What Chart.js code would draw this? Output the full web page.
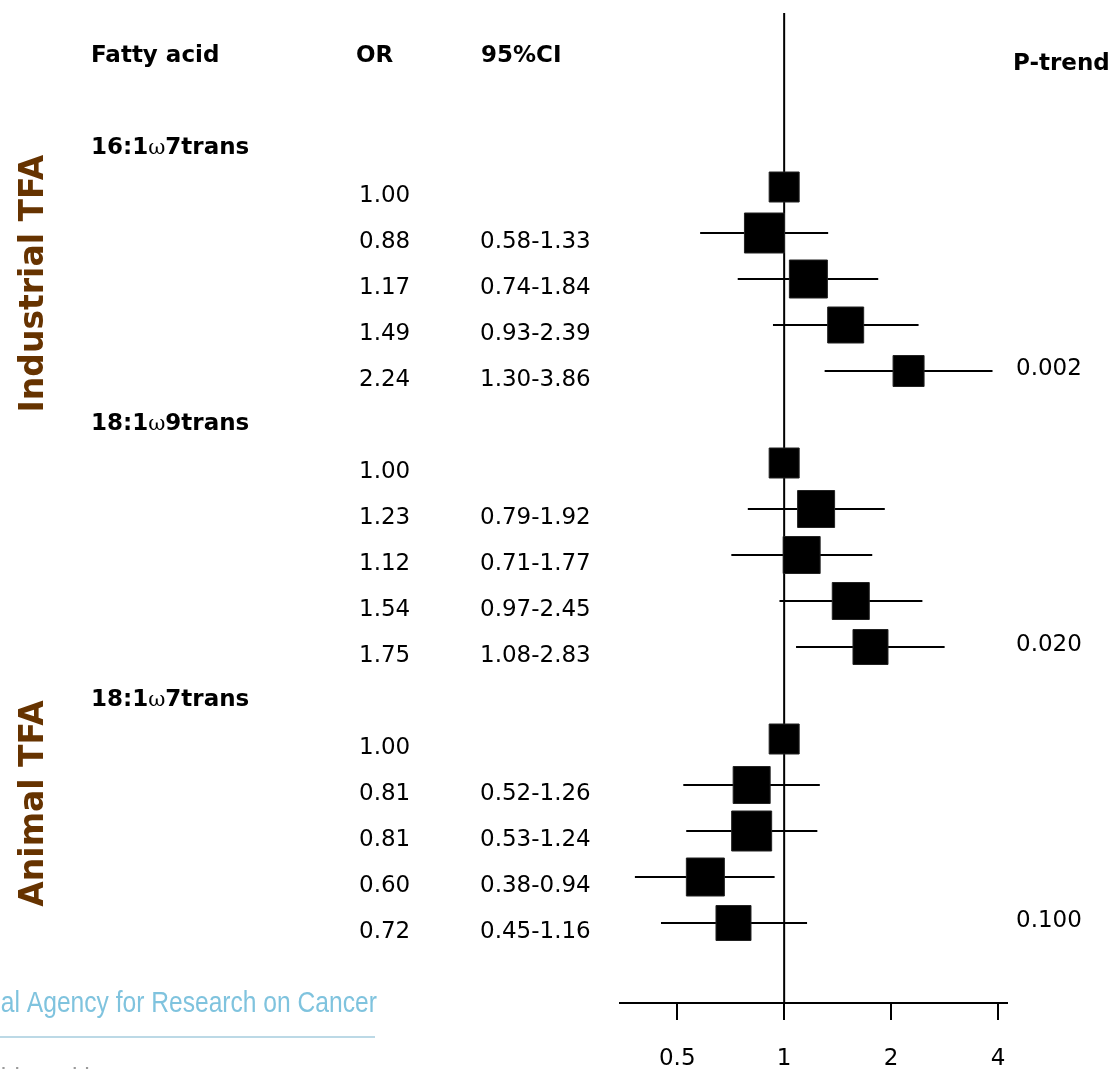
<!DOCTYPE html>
<html><head><meta charset="utf-8">
<script src="https://cdn.jsdelivr.net/npm/chart.js@4.4.1/dist/chart.umd.min.js"></script>
<style>html,body{margin:0;padding:0;background:#fff;overflow:hidden}canvas{display:block}</style>
</head><body>
<canvas id="c" width="1117" height="1069"></canvas>
<script>
// ---- data ----
const fattyAcids = ['16:1ω7trans', '18:1ω9trans', '18:1ω7trans'];
const groupLabels = ['Industrial TFA', 'Animal TFA'];
const orValues = [
  [1.00, 0.88, 1.17, 1.49, 2.24],
  [1.00, 1.23, 1.12, 1.54, 1.75],
  [1.00, 0.81, 0.81, 0.60, 0.72]
];
const ciLow = [
  [null, 0.58, 0.74, 0.93, 1.30],
  [null, 0.79, 0.71, 0.97, 1.08],
  [null, 0.52, 0.53, 0.38, 0.45]
];
const ciHigh = [
  [null, 1.33, 1.84, 2.39, 3.86],
  [null, 1.92, 1.77, 2.45, 2.83],
  [null, 1.26, 1.24, 0.94, 1.16]
];
const pTrend = ['0.002', '0.020', '0.100'];
const xTicks = [0.5, 1, 2, 4];
const headers = ['Fatty acid', 'OR', '95%CI', 'P-trend'];

// ---- style (box side lengths in px) ----
const boxSide = [
  [31, 41, 39, 37, 32],
  [31, 38, 38, 38, 36],
  [31, 38, 41, 39, 36]
];

const Y_MIN = -128 / 46, Y_MAX = 862 / 46;
const rowOf = (g, k) => g * 6 + 1 + k;

const datasets = [];
// CI lines
orValues.forEach((arr, g) => arr.forEach((v, k) => {
  if (ciLow[g][k] != null) {
    datasets.push({
      data: [{x: ciLow[g][k], y: rowOf(g, k)}, {x: ciHigh[g][k], y: rowOf(g, k)}],
      showLine: true, borderColor: '#000', borderWidth: 2, pointRadius: 0, order: 2
    });
  }
}));
// reference line at OR = 1
datasets.push({
  data: [{x: 1, y: Y_MIN}, {x: 1, y: Y_MAX}],
  showLine: true, borderColor: '#000', borderWidth: 2, pointRadius: 0, order: 3
});
// squares
const pts = [], radii = [];
orValues.forEach((arr, g) => arr.forEach((v, k) => {
  pts.push({x: v, y: rowOf(g, k)});
  radii.push((boxSide[g][k] - 1) / (2 * Math.SQRT1_2));
}));
datasets.push({
  data: pts, pointStyle: 'rect', pointRadius: radii,
  pointBackgroundColor: '#000', pointBorderColor: '#222', pointBorderWidth: 1, order: 0
});

function drawName(ctx, name, x, y) {
  const parts = name.split('ω');
  ctx.font = 'bold 23px "DejaVu Sans"';
  ctx.fillText(parts[0], x, y);
  x += ctx.measureText(parts[0]).width;
  ctx.font = '21px "DejaVu Serif"';
  ctx.fillText('ω', x, y);
  x += ctx.measureText('ω').width;
  ctx.font = 'bold 23px "DejaVu Sans"';
  ctx.fillText(parts[1], x, y);
}

const textPlugin = {
  id: 'texts',
  afterDraw(chart) {
    const ctx = chart.ctx, ys = chart.scales.y;
    const py = r => ys.getPixelForValue(r);
    ctx.save();
    ctx.fillStyle = '#000';
    ctx.textBaseline = 'alphabetic';
    ctx.textAlign = 'left';
    ctx.font = 'bold 23px "DejaVu Sans"';
    ctx.fillText(headers[0], 91, 62);
    ctx.fillText(headers[1], 356, 62);
    ctx.fillText(headers[2], 481, 62);
    ctx.fillText(headers[3], 1013, 70);
    fattyAcids.forEach((n, g) => drawName(ctx, n, 91, py(g * 6) + 13));
    ctx.font = '23px "DejaVu Sans"';
    orValues.forEach((arr, g) => arr.forEach((v, k) => {
      const y = py(rowOf(g, k)) + 15;
      ctx.fillText(v.toFixed(2), 359, y);
      if (ciLow[g][k] != null) ctx.fillText(ciLow[g][k].toFixed(2) + '-' + ciHigh[g][k].toFixed(2), 480, y);
    }));
    pTrend.forEach((p, g) => ctx.fillText(p, 1016, py(rowOf(g, 4)) + 4));

    // group labels
    ctx.fillStyle = '#663300';
    ctx.font = 'bold 33px "DejaVu Sans"';
    ctx.textAlign = 'center';
    [[groupLabels[0], 3.1], [groupLabels[1], 14.4]].forEach(([t, r]) => {
      ctx.save();
      ctx.translate(43, py(r));
      ctx.rotate(-Math.PI / 2);
      ctx.fillText(t, 0, 0);
      ctx.restore();
    });

    // footer remnant
    ctx.textAlign = 'left';
    ctx.save();
    ctx.scale(0.82, 1);
    ctx.font = '30px "Liberation Sans"';
    ctx.fillStyle = '#7fc3de';
    ctx.fillText('al Agency for Research on Cancer', 1, 1012);
    ctx.fillStyle = '#9a9a9a';
    ctx.fillText('ld Health', 1, 1089);
    ctx.restore();
    ctx.strokeStyle = '#bcd9e6';
    ctx.lineWidth = 2;
    ctx.beginPath(); ctx.moveTo(0, 1037); ctx.lineTo(375, 1037); ctx.stroke();
    ctx.restore();
  }
};

new Chart(document.getElementById('c'), {
  type: 'scatter',
  data: {datasets},
  plugins: [textPlugin],
  options: {
    responsive: false, animation: false, devicePixelRatio: 1, events: [],
    layout: {autoPadding: false, padding: {left: 620, right: 110, top: 13, bottom: 0}},
    plugins: {legend: {display: false}, tooltip: {enabled: false}},
    scales: {
      x: {
        type: 'logarithmic', min: 0.345, max: 4.24, bounds: 'data', position: 'bottom',
        afterBuildTicks: s => { s.ticks = xTicks.map(v => ({value: v})); },
        afterFit: s => { s.height = 66; },
        ticks: {callback: v => String(v), font: {family: 'DejaVu Sans', size: 23}, color: '#000', padding: 25, autoSkip: false, maxRotation: 0},
        grid: {drawOnChartArea: false, drawTicks: true, tickLength: 17, color: '#000', lineWidth: 2},
        border: {display: true, color: '#000', width: 2}
      },
      y: {type: 'linear', min: Y_MIN, max: Y_MAX, bounds: 'data', reverse: true, display: false}
    }
  }
});
</script>
</body></html>
